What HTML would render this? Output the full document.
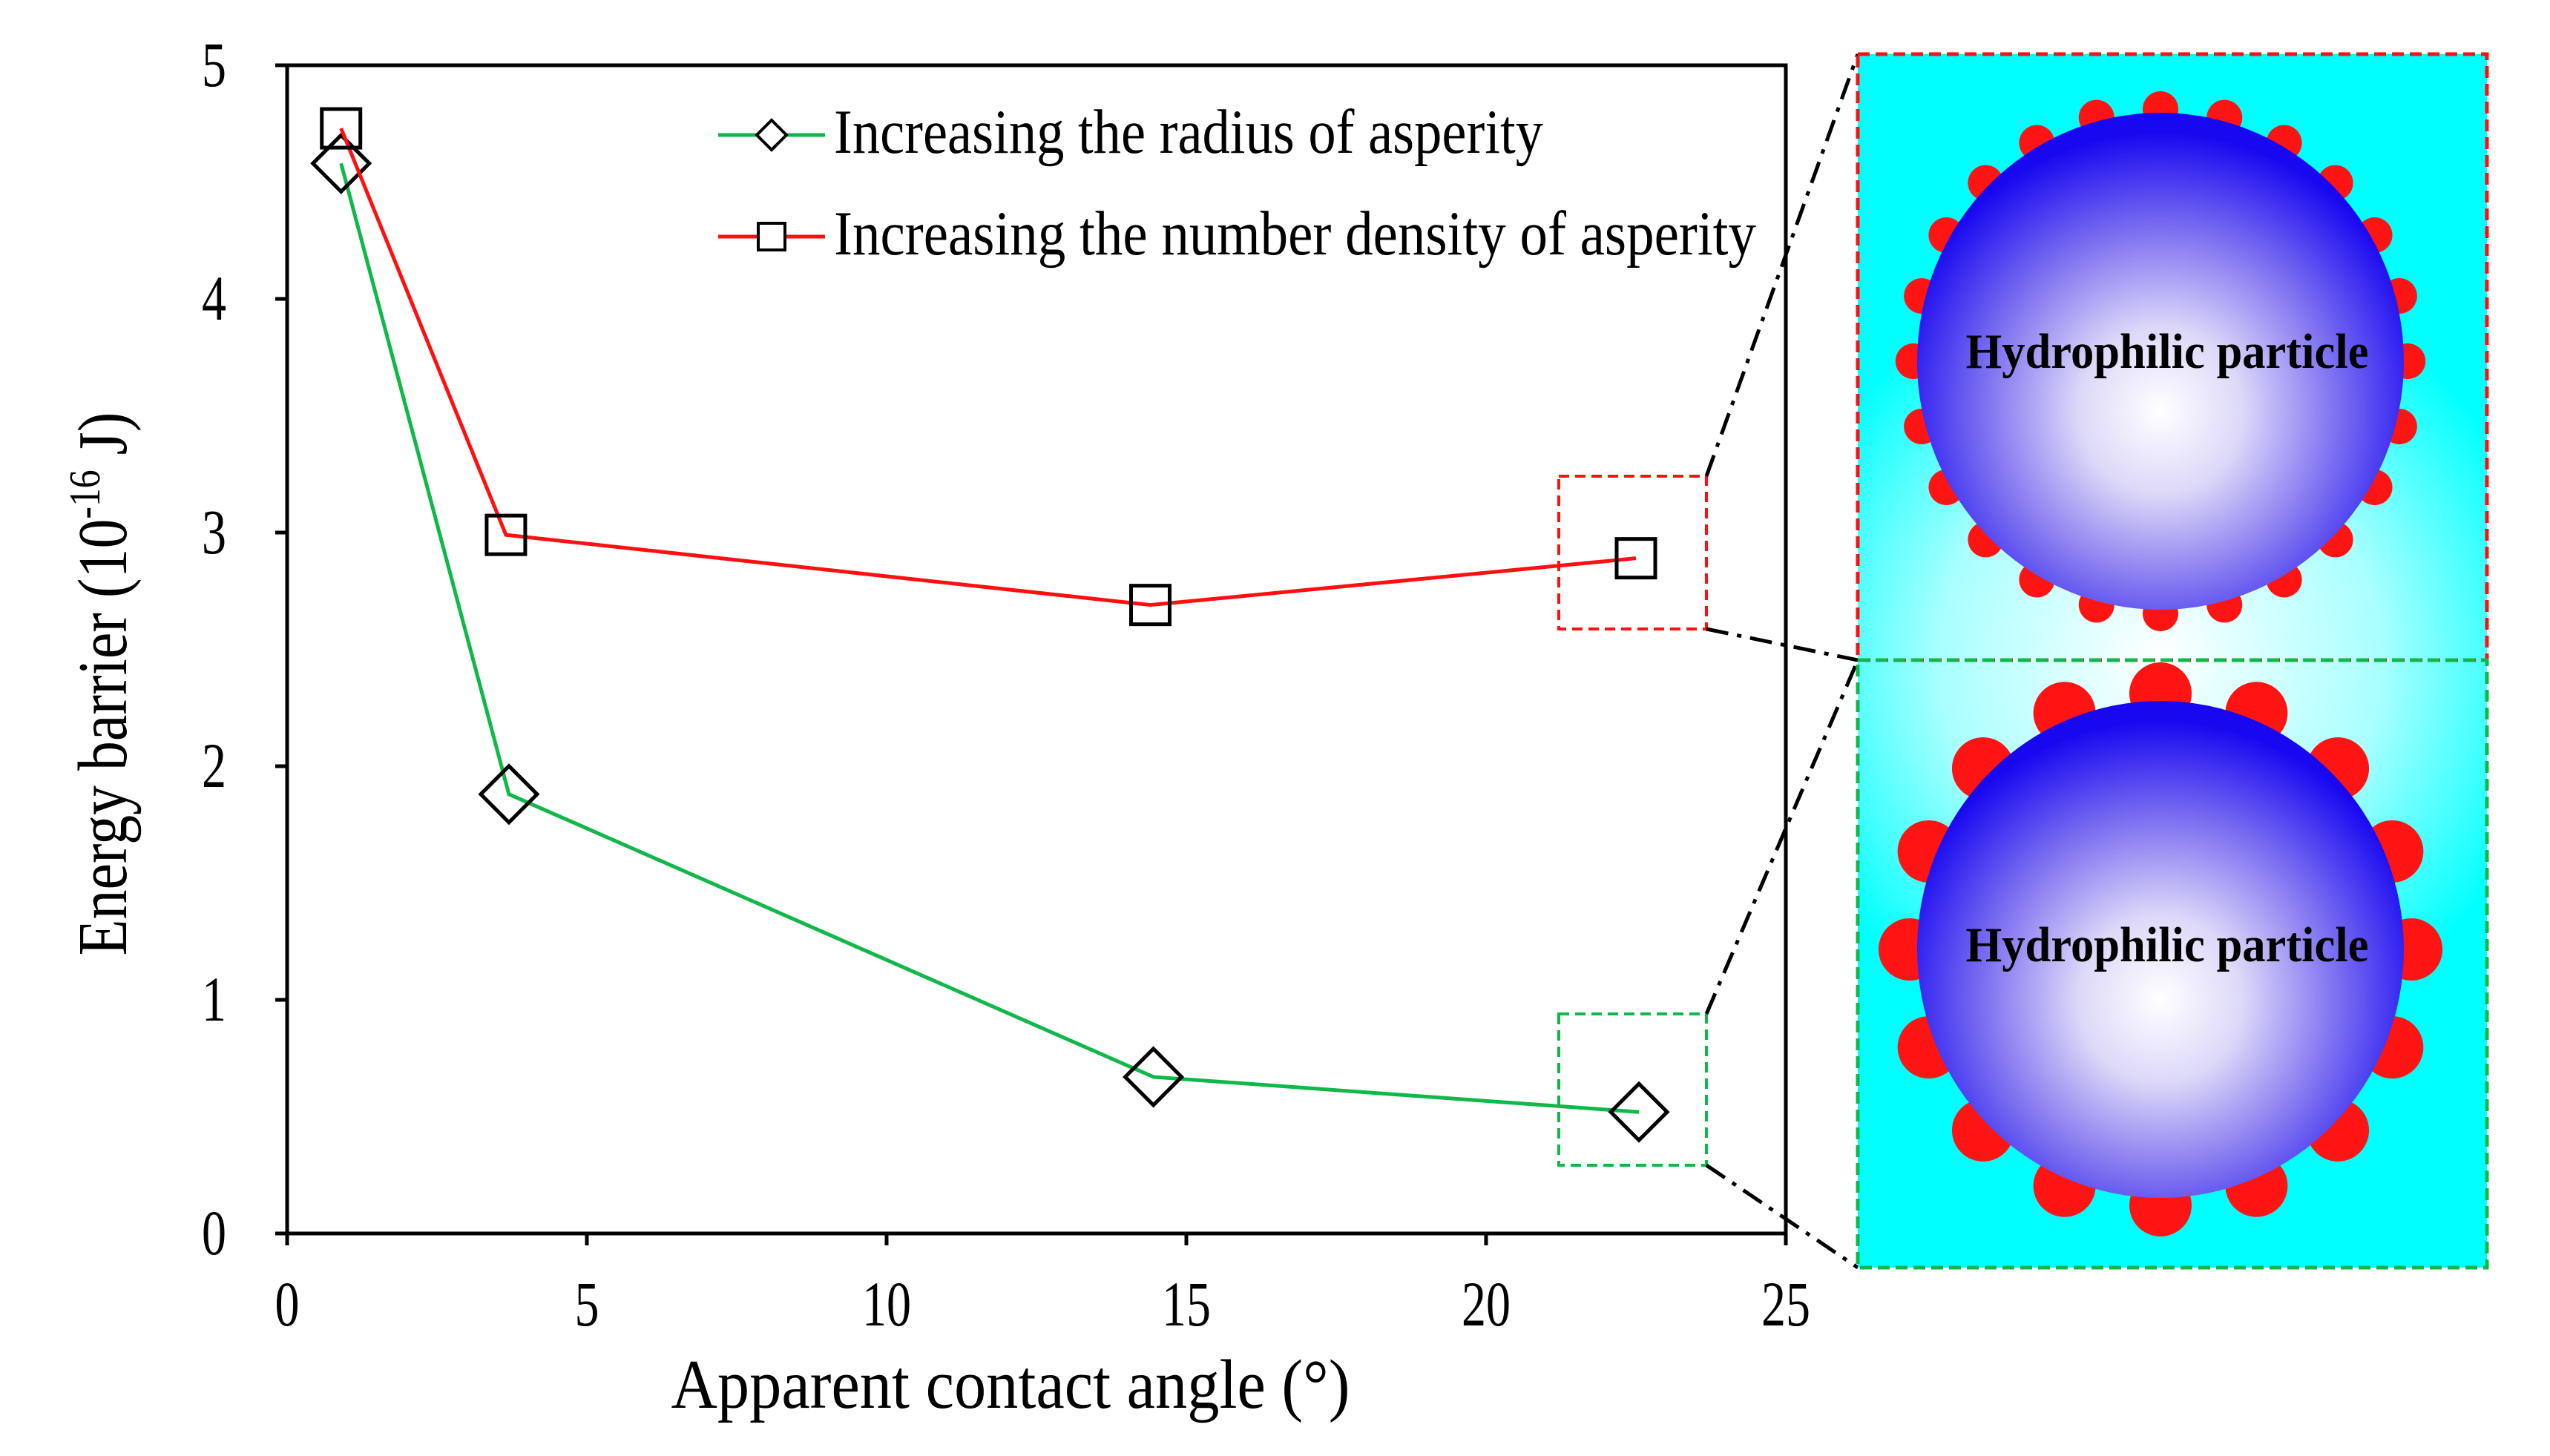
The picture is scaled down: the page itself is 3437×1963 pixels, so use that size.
<!DOCTYPE html>
<html><head><meta charset="utf-8">
<style>
html,body{margin:0;padding:0;background:#fff;}
svg{display:block;}
text{font-family:"Liberation Serif",serif;}
</style></head>
<body>
<svg id="chart" width="3437" height="1963" viewBox="0 0 3437 1963" xmlns="http://www.w3.org/2000/svg">
<defs>
  <radialGradient id="sphereGrad" cx="0.5" cy="0.6" r="0.56">
    <stop offset="0" stop-color="#ffffff"/>
    <stop offset="0.3" stop-color="#dcd8f8"/>
    <stop offset="0.65" stop-color="#7c70f0"/>
    <stop offset="1" stop-color="#1808f0"/>
  </radialGradient>
  <radialGradient id="glowTop" cx="2912" cy="890" r="540" gradientUnits="userSpaceOnUse">
    <stop offset="0" stop-color="#ffffff"/>
    <stop offset="0.55" stop-color="#aaffff"/>
    <stop offset="1" stop-color="#00ffff"/>
  </radialGradient>
</defs>
<g id="plot"></g>
<g id="panel"></g>
</svg>
<script>
const xTicks = [0,5,10,15,20,25];
const yTicks = [0,1,2,3,4,5];
const radiusX = [0.9,3.7,14.45,22.55];
const radiusY = [4.58,1.88,0.67,0.52];
const densityX = [0.9,3.65,14.4,22.5];
const densityY = [4.73,2.99,2.69,2.89];

const NS='http://www.w3.org/2000/svg';
const L=387,R=2407,T=88,B=1663;
const sx=v=>L+(v-0)/(25-0)*(R-L);
const sy=v=>B-(v-0)/(5-0)*(B-T);
function mk(tag,attrs,parent){const e=document.createElementNS(NS,tag);for(const k in attrs)e.setAttribute(k,attrs[k]);parent.appendChild(e);return e;}
const plot=document.getElementById('plot');
const panel=document.getElementById('panel');

let ax=mk('rect',{x:L,y:T,width:R-L,height:B-T,fill:'none',stroke:'#000','stroke-width':5},plot);


xTicks.forEach(t=>{
  let l=mk('line',{x1:sx(t),x2:sx(t),y1:B,y2:B+16,stroke:'#000','stroke-width':5},plot);
  
  
  let tx=mk('text',{x:0,y:0,'font-size':66,'text-anchor':'middle',transform:`translate(${sx(t)},1787) scale(1,1.3)`},plot);
  tx.textContent=t;
  
  
});
yTicks.forEach(t=>{
  let l=mk('line',{x1:L-16,x2:L,y1:sy(t),y2:sy(t),stroke:'#000','stroke-width':5},plot);
  
  
  let tx=mk('text',{x:0,y:0,'font-size':66,'text-anchor':'end',transform:`translate(305,${sy(t)+28}) scale(1,1.3)`},plot);
  tx.textContent=t;
  
  
});
let xt=mk('text',{x:0,y:0,'font-size':74,'text-anchor':'middle',textLength:915,lengthAdjust:'spacingAndGlyphs',transform:'translate(1362,1898) scale(1,1.28)'},plot);
xt.textContent='Apparent contact angle (°)';


let yt=mk('text',{x:0,y:0,'font-size':74,'text-anchor':'middle',transform:'translate(170,922) rotate(-90) scale(1.08,1.28)'},plot);
yt.innerHTML='Energy barrier (10<tspan dy="-28" font-size="46">-16</tspan><tspan dy="28"> J)</tspan>';



function series(xs,ys,color,marker,name){
  const pts=xs.map((x,i)=>sx(x)+','+sy(ys[i])).join(' ');
  let pl=mk('polyline',{points:pts,fill:'none',stroke:color,'stroke-width':5},plot);
  
  
  xs.forEach((x,i)=>{
    const cx=sx(x),cy=sy(ys[i]);let m;
    if(marker==='diamond') m=mk('polygon',{points:`${cx},${cy-38} ${cx+38},${cy} ${cx},${cy+38} ${cx-38},${cy}`,fill:'none',stroke:'#000','stroke-width':5},plot);
    else m=mk('rect',{x:cx-26,y:cy-26,width:52,height:52,fill:'none',stroke:'#000','stroke-width':5},plot);
    
    
  });
}
series(radiusX,radiusY,'#10b84a','diamond','radius-series');
series(densityX,densityY,'#ff1010','square','density-series');

function legend(y,color,marker,label,len,name){
  let g=mk('g',{},plot);
  
  
  mk('line',{x1:968,x2:1112,y1:y,y2:y,stroke:color,'stroke-width':5},g);
  const cx=1040;
  if(marker==='diamond') mk('polygon',{points:`${cx},${y-20} ${cx+20},${y} ${cx},${y+20} ${cx-20},${y}`,fill:'#fff',stroke:'#000','stroke-width':4},g);
  else mk('rect',{x:cx-18,y:y-18,width:36,height:36,fill:'#fff',stroke:'#000','stroke-width':4},g);
  let t=mk('text',{x:0,y:0,'font-size':68,textLength:len,lengthAdjust:'spacingAndGlyphs',transform:`translate(1124,${y+24}) scale(1,1.25)`},g);
  t.textContent=label;
}
legend(182,'#10b84a','diamond','Increasing the radius of asperity',956,'legend-radius');
legend(319,'#ff1010','square','Increasing the number density of asperity',1243,'legend-density');

let rb=mk('rect',{x:2101,y:642,width:199,height:206,fill:'none',stroke:'#ff1010','stroke-width':4,'stroke-dasharray':'14 8'},plot);


let gb=mk('rect',{x:2101,y:1367,width:199,height:204,fill:'none',stroke:'#10b84a','stroke-width':4,'stroke-dasharray':'14 8'},plot);


[[2300,642,2504,73],[2300,848,2504,890],[2300,1367,2504,890],[2300,1571,2504,1709]].forEach(c=>{
  let l=mk('line',{x1:c[0],y1:c[1],x2:c[2],y2:c[3],stroke:'#000','stroke-width':5,'stroke-dasharray':'30 12 6 12'},plot);
  
  
});

const PL=2504,PR=3352,PT=73,PM=890,PB=1709,CX=2912;
let bg=mk('rect',{x:PL,y:PT,width:PR-PL,height:PB-PT,fill:'url(#glowTop)'},panel);


function particle(cy,n,br,dist,ty,name){
  let g=mk('g',{},panel);
  
  
  for(let i=0;i<n;i++){const a=i*2*Math.PI/n;mk('circle',{cx:CX+Math.sin(a)*dist*0.98,cy:cy-Math.cos(a)*dist,r:br,fill:'#ff1414'},g);}
  mk('ellipse',{cx:CX,cy:cy,rx:328,ry:335,fill:'url(#sphereGrad)'},g);
  let t=mk('text',{x:0,y:0,'font-size':58,'font-weight':'bold','text-anchor':'middle',textLength:543,lengthAdjust:'spacingAndGlyphs',transform:`translate(${CX+9},${ty}) scale(1,1.15)`},g);
  t.textContent='Hydrophilic particle';
}
particle(487,24,24,340,496,'top-particle');
particle(1280,16,42,345,1296,'bottom-particle');
let f1=mk('rect',{x:PL,y:PT,width:PR-PL,height:PM-PT,fill:'none',stroke:'#ff1010','stroke-width':5,'stroke-dasharray':'16 8'},panel);


let f2=mk('rect',{x:PL,y:PM,width:PR-PL,height:PB-PM,fill:'none',stroke:'#10b84a','stroke-width':5,'stroke-dasharray':'16 8'},panel);


</script>
</body></html>
